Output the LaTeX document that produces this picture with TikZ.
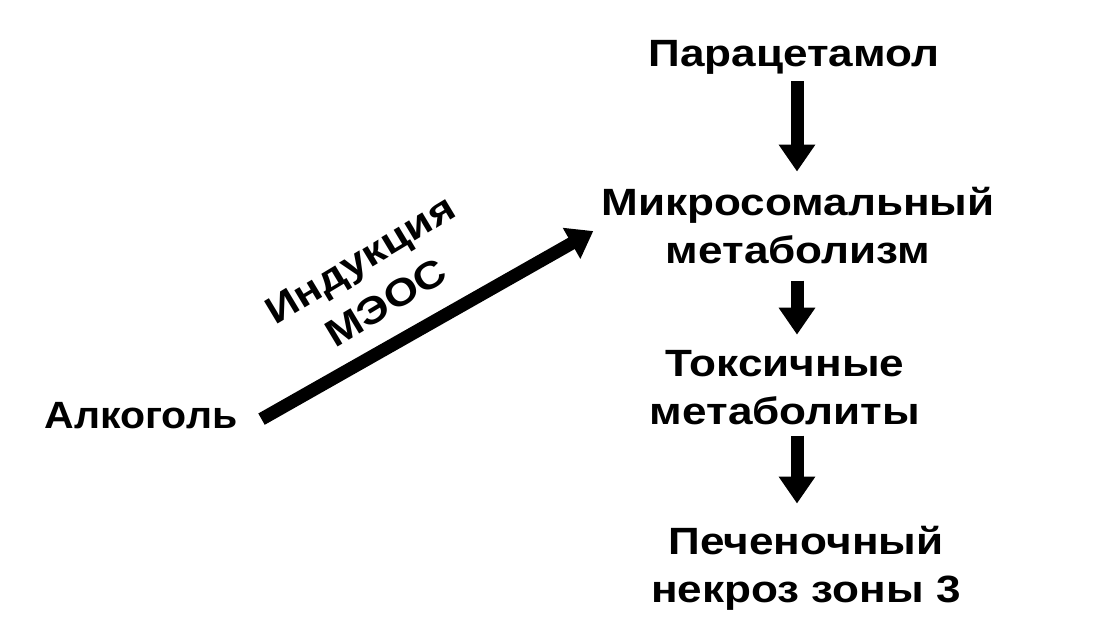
\documentclass[tikz,border=0pt]{standalone}
\usepackage{fontspec}
\setmainfont{Liberation Sans}[FakeStretch=1.16]
\usetikzlibrary{arrows.meta}
\begin{document}
\begin{tikzpicture}[x=1pt,y=-1pt,
  txt/.style={inner sep=0pt, align=center, font=\fontsize{38}{48}\selectfont\bfseries},
  varrow/.style={line width=13pt, -{Triangle[width=35pt,length=27pt]}},
  darrow/.style={line width=13pt, -{Triangle[width=34pt,length=25pt]}}]
\useasboundingbox (0,0) rectangle (1120,630);
\node[txt, anchor=base] (para) at (794,66) {Парацетамол};
\node[txt, anchor=base] (mikro) at (798,263) {Микросомальный\\метаболизм};
\node[txt, anchor=base] (toks) at (785,424) {Токсичные\\метаболиты};
\node[txt, anchor=base] (pech) at (806,602) {Печеночный\\некроз зоны 3};
\node[txt, anchor=base, font=\fontsize{38}{48}\selectfont\bfseries\addfontfeature{FakeStretch=1.08}] (alk) at (141,428) {Алкоголь};
\node[txt, font=\fontsize{38}{50}\selectfont\bfseries, rotate=31] (ind) at (373,281) {Индукция\\МЭОС};
\coordinate (ax) at (797,0);
\draw[varrow, shorten <=7pt, shorten >=15pt] (para.south -| ax) -- (mikro.north -| ax);
\draw[varrow, shorten <=17pt, shorten >=15pt] (mikro.south -| ax) -- (toks.north -| ax);
\draw[varrow, shorten <=11pt, shorten >=22pt] (toks.south -| ax) -- (pech.north -| ax);
\draw[darrow] ([xshift=24pt,yshift=-4pt]alk.east) -- ([xshift=-8pt,yshift=-6pt]mikro.west);
\end{tikzpicture}
\end{document}
